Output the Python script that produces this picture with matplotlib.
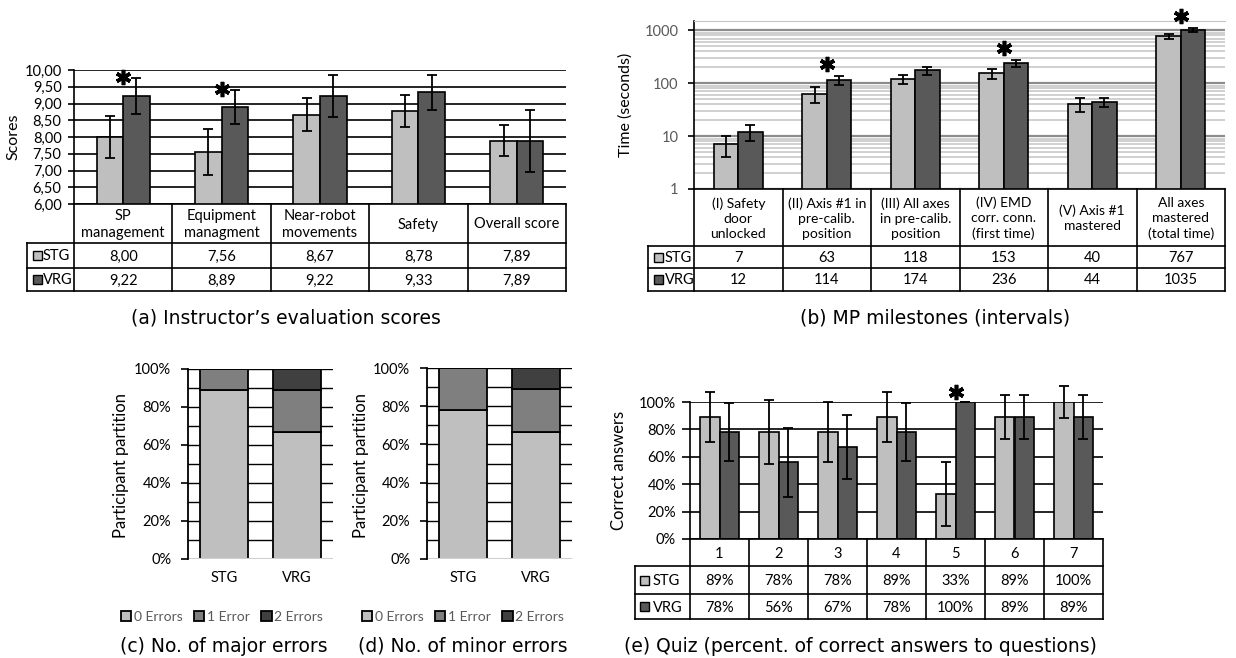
import matplotlib
matplotlib.use('Agg')
import matplotlib.pyplot as plt
import matplotlib.transforms as mtransforms
from matplotlib.lines import Line2D
from matplotlib.patches import Rectangle
from matplotlib.ticker import FixedLocator, NullFormatter, FixedFormatter
import numpy as np

W, H = 1236, 658
plt.rcParams['font.family'] = ['Lato', 'DejaVu Sans']
FS = 10.5
YL_FS = 11.5
CAP_FONT = ['DejaVu Sans']
CAP_FS = 13.5

C_STG = '#bfbfbf'
C_VRG = '#595959'
C_E0, C_E1, C_E2 = '#bfbfbf', '#7f7f7f', '#404040'

# ---------------- data ----------------
groups = ['STG', 'VRG']

# (a) Instructor's evaluation scores
a_categories = ['SP\nmanagement', 'Equipment\nmanagment', 'Near-robot\nmovements', 'Safety', 'Overall score']
a_stg = [8.00, 7.56, 8.67, 8.78, 7.89]
a_vrg = [9.22, 8.89, 9.22, 9.33, 7.89]
a_stg_err = [0.62, 0.68, 0.50, 0.47, 0.47]
a_vrg_err = [0.53, 0.50, 0.62, 0.52, 0.92]
a_sig = [True, True, False, False, False]
a_yticks = [6.0, 6.5, 7.0, 7.5, 8.0, 8.5, 9.0, 9.5, 10.0]

# (b) MP milestones
b_categories = ['(I) Safety\ndoor\nunlocked', '(II) Axis #1 in\npre-calib.\nposition',
                '(III) All axes\nin pre-calib.\nposition', '(IV) EMD\ncorr. conn.\n(first time)',
                '(V) Axis #1\nmastered', 'All axes\nmastered\n(total time)']
b_stg = [7, 63, 118, 153, 40, 767]
b_vrg = [12, 114, 174, 236, 44, 1035]
b_stg_err = [3, 21, 23, 35, 12, 80]
b_vrg_err = [4, 22, 30, 35, 9, 90]
b_sig = [False, True, False, True, False, True]
b_yticks = [1, 10, 100, 1000]

# (c) major errors, (d) minor errors  (fractions of participants)
error_labels = ['0 Errors', '1 Error', '2 Errors']
c_err0 = [0.889, 0.667]
c_err1 = [0.111, 0.222]
c_err2 = [0.000, 0.111]
d_err0 = [0.778, 0.667]
d_err1 = [0.222, 0.222]
d_err2 = [0.000, 0.111]

# (e) Quiz
e_questions = ['1', '2', '3', '4', '5', '6', '7']
e_stg = [89, 78, 78, 89, 33, 89, 100]
e_vrg = [78, 56, 67, 78, 100, 89, 89]
e_stg_err = [18.5, 23.5, 22, 18.5, 23.5, 16, 11.5]
e_vrg_err = [21, 25, 23.5, 21, 0, 16, 16]
e_sig = [False, False, False, False, True, False, False]

# ---------------- helpers ----------------
fig = plt.figure(figsize=(W / 100, H / 100), dpi=100)
PIX = mtransforms.Affine2D().scale(1.0 / W, -1.0 / H).translate(0, 1) + fig.transFigure


def pix_ax(l, t, r, b):
    return fig.add_axes([l / W, 1 - b / H, (r - l) / W, (b - t) / H])


def hline(x0, x1, y, **kw):
    fig.add_artist(Line2D([x0, x1], [y, y], transform=PIX, color=kw.get('color', 'black'),
                          lw=kw.get('lw', 1.2), solid_capstyle='projecting'))


def vline(x, y0, y1, **kw):
    fig.add_artist(Line2D([x, x], [y0, y1], transform=PIX, color=kw.get('color', 'black'),
                          lw=kw.get('lw', 1.2), solid_capstyle='projecting'))


def ptext(x, y, s, **kw):
    kw.setdefault('ha', 'center')
    kw.setdefault('va', 'center')
    kw.setdefault('fontsize', FS)
    return fig.text(x, y, s, transform=PIX, **kw)


def draw_table(box, n, label_left, rows_y, cats, stg_txt, vrg_txt, ls, key_dx=4, txt_dx=15, cat_fs=FS):
    l, t, r, b = box
    gw = (r - l) / n
    xs = [l + i * gw for i in range(n + 1)]
    yc, ys, yv = rows_y
    hline(l, r, b)
    hline(label_left, r, yc)
    hline(label_left, r, ys)
    hline(label_left, r, yv)
    for x in xs:
        vline(x, b, yv)
    vline(label_left, yc, yv)
    for i in range(n):
        cx = (xs[i] + xs[i + 1]) / 2
        ptext(cx, (b + yc) / 2 + 1, cats[i], linespacing=ls, fontsize=cat_fs)
        ptext(cx, (yc + ys) / 2 + 1, stg_txt[i])
        ptext(cx, (ys + yv) / 2 + 1, vrg_txt[i])
    for (y0, y1, col, name) in [(yc, ys, C_STG, groups[0]), (ys, yv, C_VRG, groups[1])]:
        ym = (y0 + y1) / 2
        fig.add_artist(Rectangle((label_left + key_dx, ym - 4.5), 9, 9, transform=PIX,
                                 facecolor=col, edgecolor='black', lw=1.0))
        ptext(label_left + txt_dx, ym + 1, name, ha='left')


def grouped_bars(ax, stg, vrg, se, ve, bw, cap=3.5):
    n = len(stg)
    x = np.arange(n)
    ax.bar(x - bw / 2, stg, bw, color=C_STG, edgecolor='black', lw=1.2, zorder=3)
    ax.bar(x + bw / 2, vrg, bw, color=C_VRG, edgecolor='black', lw=1.2, zorder=3)
    ax.errorbar(x - bw / 2, stg, yerr=se, fmt='none', ecolor='black', elinewidth=1.3,
                capsize=cap, capthick=1.3, zorder=4, clip_on=False)
    ax.errorbar(x + bw / 2, vrg, yerr=ve, fmt='none', ecolor='black', elinewidth=1.3,
                capsize=cap, capthick=1.3, zorder=4, clip_on=False)
    ax.set_xlim(-0.5, n - 0.5)
    ax.set_xticks([])
    for s in ['top', 'right', 'bottom']:
        ax.spines[s].set_visible(False)
    ax.spines['left'].set_linewidth(1.2)


def stars(ax, sig, vrg, ve, dy):
    off = mtransforms.ScaledTranslation(0, dy / 100, fig.dpi_scale_trans)
    for i, s in enumerate(sig):
        if s:
            ax.plot([i], [vrg[i] + ve[i]], linestyle='none', marker=(6, 2, 0), markersize=11,
                    mew=2.6, color='black', clip_on=False, zorder=6,
                    transform=ax.transData + off)


# ---------------- (a) ----------------
boxA = (74, 70, 566, 204)
axA = pix_ax(*boxA)
grouped_bars(axA, a_stg, a_vrg, a_stg_err, a_vrg_err, 0.27)
axA.set_ylim(6, 10)
axA.set_yticks(a_yticks)
axA.set_yticklabels([('%.2f' % v).replace('.', ',') for v in a_yticks], fontsize=FS)
axA.tick_params(axis='y', length=4, width=1.2, pad=5)
for v in a_yticks:
    axA.axhline(v, color='black', lw=1.2, zorder=1)
stars(axA, a_sig, a_vrg, a_vrg_err, 1)
draw_table(boxA, len(a_categories), 27, (243, 268, 291), a_categories,
           [('%.2f' % v).replace('.', ',') for v in a_stg],
           [('%.2f' % v).replace('.', ',') for v in a_vrg], 1.35, key_dx=6, txt_dx=16)
ptext(13, 137, 'Scores', rotation=90, fontsize=YL_FS)
ptext(286, 318, "(a) Instructor\u2019s evaluation scores", family=CAP_FONT, fontsize=CAP_FS)

# ---------------- (b) ----------------
boxB = (694, 21, 1225, 189)
axB = pix_ax(*boxB)
axB.set_yscale('log')
grouped_bars(axB, b_stg, b_vrg, b_stg_err, b_vrg_err, 0.275)
axB.set_ylim(1, 1500)
axB.yaxis.set_major_locator(FixedLocator(b_yticks))
axB.yaxis.set_major_formatter(FixedFormatter([str(v) for v in b_yticks]))
minor = [m * 10 ** k for k in range(0, 4) for m in range(2, 10) if m * 10 ** k < 1500]
axB.yaxis.set_minor_locator(FixedLocator(minor))
axB.yaxis.set_minor_formatter(NullFormatter())
axB.tick_params(axis='y', which='major', length=4, width=1.2, pad=7, labelsize=FS, labelcolor='#595959')
axB.tick_params(axis='y', which='minor', length=0)
axB.grid(axis='y', which='major', color='#8c8c8c', lw=1.6, zorder=1)
axB.grid(axis='y', which='minor', color='#c4c4c4', lw=1.1, zorder=1)
axB.set_axisbelow(True)
axB.spines['top'].set_visible(True)
axB.spines['top'].set_color('#c4c4c4')
stars(axB, b_sig, b_vrg, b_vrg_err, 12)
draw_table(boxB, len(b_categories), 648, (246, 268, 291), b_categories,
           [str(v) for v in b_stg], [str(v) for v in b_vrg], 1.3, key_dx=6, txt_dx=17, cat_fs=10)
ptext(626, 105, 'Time (seconds)', rotation=90, fontsize=YL_FS)
ptext(935, 318, '(b) MP milestones (intervals)', family=CAP_FONT, fontsize=CAP_FS)


# ---------------- (c), (d) ----------------
def stacked(box, e0, e1, e2, ylab_x, legend_cx, cap, cap_cx):
    ax = pix_ax(*box)
    x = np.arange(len(groups))
    bw = 0.66
    h0 = ax.bar(x, e0, bw, color=C_E0, edgecolor='black', lw=1.3, zorder=3, label=error_labels[0])
    h1 = ax.bar(x, e1, bw, bottom=e0, color=C_E1, edgecolor='black', lw=1.3, zorder=3, label=error_labels[1])
    h2 = ax.bar(x, e2, bw, bottom=np.add(e0, e1), color=C_E2, edgecolor='black', lw=1.3, zorder=3,
                label=error_labels[2])
    ax.set_xlim(-0.5, len(groups) - 0.5)
    ax.set_ylim(0, 1)
    for v in np.arange(1, 11) / 10:
        ax.axhline(v, color='black', lw=1.0, zorder=1)
    ax.axhline(0, color='#d0d0d0', lw=1.5, zorder=4)
    ticks = [0, 0.2, 0.4, 0.6, 0.8, 1.0]
    ax.set_yticks(ticks)
    ax.set_yticklabels(['%d%%' % round(v * 100) for v in ticks], fontsize=FS)
    ax.tick_params(axis='y', length=5, width=1.2, pad=7)
    ax.set_xticks(x)
    ax.set_xticklabels(groups, fontsize=FS)
    ax.tick_params(axis='x', length=0, pad=9)
    for s in ['top', 'right', 'bottom']:
        ax.spines[s].set_visible(False)
    ax.spines['left'].set_linewidth(1.3)
    ax.spines['left'].set_zorder(5)
    ptext(ylab_x, 466, 'Participant partition', rotation=90, fontsize=12)
    ax.legend(handles=[h0, h1, h2], loc='center', bbox_to_anchor=(legend_cx / W, 1 - 617 / H),
              bbox_transform=fig.transFigure, ncol=3, frameon=False, fontsize=10,
              handlelength=0.75, handleheight=0.75, handletextpad=0.2, columnspacing=0.8,
              labelcolor='#595959', borderpad=0)
    ptext(cap_cx, 646, cap, family=CAP_FONT, fontsize=CAP_FS)
    return ax


stacked((188, 369, 333, 559), c_err0, c_err1, c_err2, 121, 222, '(c) No. of major errors', 224)
stacked((427, 368, 572, 559), d_err0, d_err1, d_err2, 361, 463, '(d) No. of minor errors', 463)

# ---------------- (e) ----------------
boxE = (690, 402, 1103, 539)
axE = pix_ax(*boxE)
grouped_bars(axE, e_stg, e_vrg, e_stg_err, e_vrg_err, 0.335)
axE.set_ylim(0, 100)
e_yticks = [0, 20, 40, 60, 80, 100]
axE.set_yticks(e_yticks)
axE.set_yticklabels(['%d%%' % v for v in e_yticks], fontsize=FS)
axE.tick_params(axis='y', length=6, width=1.2, pad=4)
for v in e_yticks:
    axE.axhline(v, color='black', lw=1.2, zorder=1)
stars(axE, e_sig, e_vrg, e_vrg_err, 10)
draw_table(boxE, len(e_questions), 635, (566, 594, 619), e_questions,
           ['%d%%' % v for v in e_stg], ['%d%%' % v for v in e_vrg], 1.2, key_dx=5, txt_dx=18)
ptext(619, 470, 'Correct answers', rotation=90, fontsize=12)
ptext(860, 646, '(e) Quiz (percent. of correct answers to questions)', family=CAP_FONT, fontsize=CAP_FS)

fig.savefig('out.png', dpi=100)
